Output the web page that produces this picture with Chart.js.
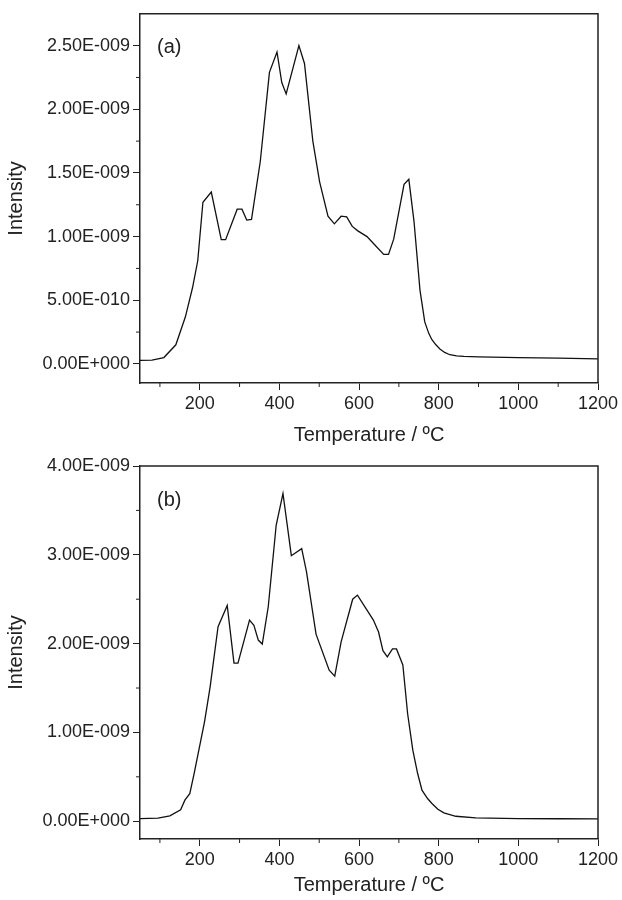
<!DOCTYPE html>
<html>
<head>
<meta charset="utf-8">
<script src="https://cdn.jsdelivr.net/npm/chart.js@4.4.1/dist/chart.umd.min.js"></script>
<style>
  html, body { margin: 0; padding: 0; background: #fff; }
  .panel { width: 622px; height: 450px; }
</style>
</head>
<body>
<div class="panel"><canvas id="chartA" width="622" height="450"></canvas></div>
<div class="panel"><canvas id="chartB" width="622" height="450"></canvas></div>
<script>
// temperature axis (shared)
const xTicks = [200, 400, 600, 800, 1000, 1200];
const xTickLabels = ['200', '400', '600', '800', '1000', '1200'];
const xMinor = [100, 300, 500, 700, 900, 1100];

// panel (a) - intensity in units of 1E-009
const tempA = [50, 80, 110, 140, 164, 182, 195, 208, 229, 254, 265, 294, 306, 318, 330, 352, 375, 394, 406, 417,
  449, 463, 484, 501, 522, 538, 555, 569, 583, 597, 620, 638, 662, 674, 687, 713, 725, 738, 753, 765,
  775, 783, 793, 803, 815, 828, 845, 863, 900, 1000, 1100, 1200];
const intA = [0.028, 0.03, 0.05, 0.15, 0.37, 0.60, 0.81, 1.27, 1.35, 0.976, 0.976, 1.215, 1.215, 1.13, 1.135, 1.59, 2.29, 2.45, 2.21, 2.12,
  2.50, 2.36, 1.75, 1.43, 1.16, 1.10, 1.16, 1.155, 1.08, 1.045, 1.0, 0.94, 0.86, 0.86, 0.98, 1.41, 1.45, 1.12, 0.58, 0.33,
  0.24, 0.19, 0.15, 0.117, 0.09, 0.072, 0.063, 0.059, 0.055, 0.05, 0.045, 0.04];
const yTicksA = [0, 0.5, 1.0, 1.5, 2.0, 2.5];
const yTickLabelsA = ['0.00E+000', '5.00E-010', '1.00E-009', '1.50E-009', '2.00E-009', '2.50E-009'];
const yMinorA = [0.25, 0.75, 1.25, 1.75, 2.25];

// panel (b)
const tempB = [50, 95, 125, 152, 163, 175, 186, 212, 226, 246, 269, 286, 296, 325, 336, 347, 357, 372, 392, 409,
  430, 456, 468, 492, 525, 539, 555, 584, 596, 636, 649, 660, 671, 684, 694, 710, 722, 735, 747, 758,
  772, 783, 798, 813, 843, 893, 1000, 1100, 1200];
const intB = [0.03, 0.035, 0.06, 0.13, 0.24, 0.31, 0.54, 1.12, 1.51, 2.19, 2.43, 1.78, 1.78, 2.265, 2.205, 2.04, 1.995, 2.415, 3.335, 3.69,
  2.99, 3.07, 2.81, 2.107, 1.70, 1.634, 2.02, 2.50, 2.546, 2.265, 2.13, 1.92, 1.85, 1.94, 1.94, 1.76, 1.21, 0.80, 0.54, 0.35,
  0.256, 0.2, 0.135, 0.094, 0.056, 0.037, 0.03, 0.028, 0.026];
const yTicksB = [0, 1, 2, 3, 4];
const yTickLabelsB = ['0.00E+000', '1.00E-009', '2.00E-009', '3.00E-009', '4.00E-009'];
const yMinorB = [0.5, 1.5, 2.5, 3.5];

const FONT = "'Liberation Sans', Arial, sans-serif";
const INK = '#222';

// minor ticks, top/right frame and the panel letter
const panelDecor = {
  id: 'panelDecor',
  afterDraw(chart, args, opts) {
    const { ctx, chartArea: a, scales } = chart;
    ctx.save();
    ctx.strokeStyle = INK;
    ctx.lineWidth = 1;
    ctx.beginPath();
    opts.xMinor.forEach(v => {
      const px = scales.x.getPixelForValue(v);
      ctx.moveTo(px, a.bottom);
      ctx.lineTo(px, a.bottom + 4);
    });
    opts.yMinor.forEach(v => {
      const py = scales.y.getPixelForValue(v);
      ctx.moveTo(a.left, py);
      ctx.lineTo(a.left - 4, py);
    });
    ctx.stroke();

    ctx.lineWidth = 1.5;
    ctx.beginPath();
    ctx.moveTo(a.left, a.top);
    ctx.lineTo(a.right, a.top);
    ctx.lineTo(a.right, a.bottom);
    ctx.stroke();

    ctx.fillStyle = INK;
    ctx.font = '20px ' + FONT;
    ctx.textAlign = 'left';
    ctx.textBaseline = 'middle';
    ctx.fillText(opts.letter, a.left + 17, a.top + 34);
    ctx.restore();
  }
};

function makeChart(id, temps, values, yMin, yMax, yTicks, yLabels, yMinor, letter, padTop, xBoxHeight) {
  const points = temps.map((t, i) => ({ x: t, y: values[i] }));
  return new Chart(document.getElementById(id), {
    type: 'line',
    data: {
      datasets: [{
        data: points,
        borderColor: '#111',
        borderWidth: 1.3,
        pointRadius: 0,
        tension: 0,
        fill: false
      }]
    },
    options: {
      responsive: false,
      animation: false,
      layout: { padding: { left: 0, right: 24, top: padTop, bottom: 0 } },
      plugins: {
        legend: { display: false },
        tooltip: { enabled: false },
        panelDecor: { xMinor: xMinor, yMinor: yMinor, letter: letter }
      },
      scales: {
        x: {
          type: 'linear',
          min: 50,
          max: 1200,
          afterBuildTicks: s => { s.ticks = xTicks.map(v => ({ value: v })); },
          afterFit: s => { s.height = xBoxHeight; },
          grid: { drawOnChartArea: false, drawTicks: true, tickLength: 7, tickColor: INK, tickWidth: 1 },
          border: { display: true, color: INK, width: 1.5 },
          ticks: {
            color: INK,
            padding: 3,
            maxRotation: 0,
            font: { family: FONT, size: 18 },
            callback: v => xTickLabels[xTicks.indexOf(v)]
          },
          title: {
            display: true,
            text: 'Temperature / ºC',
            color: INK,
            font: { family: FONT, size: 20 },
            padding: { top: 0, bottom: 3 }
          }
        },
        y: {
          type: 'linear',
          min: yMin,
          max: yMax,
          afterBuildTicks: s => { s.ticks = yTicks.map(v => ({ value: v })); },
          afterFit: s => { s.width = 140; },
          grid: { drawOnChartArea: false, drawTicks: true, tickLength: 7, tickColor: INK, tickWidth: 1 },
          border: { display: true, color: INK, width: 1.5 },
          ticks: {
            color: INK,
            padding: 3,
            font: { family: FONT, size: 18 },
            callback: v => yLabels[yTicks.indexOf(v)]
          },
          title: {
            display: true,
            text: 'Intensity',
            color: INK,
            font: { family: FONT, size: 20 },
            padding: { top: 4, bottom: 0 }
          }
        }
      }
    },
    plugins: [panelDecor]
  });
}

makeChart('chartA', tempA, intA, -0.15, 2.75, yTicksA, yTickLabelsA, yMinorA, '(a)', 12, 67);
makeChart('chartB', tempB, intB, -0.2, 4.0, yTicksB, yTickLabelsB, yMinorB, '(b)', 16, 61);
</script>
</body>
</html>
